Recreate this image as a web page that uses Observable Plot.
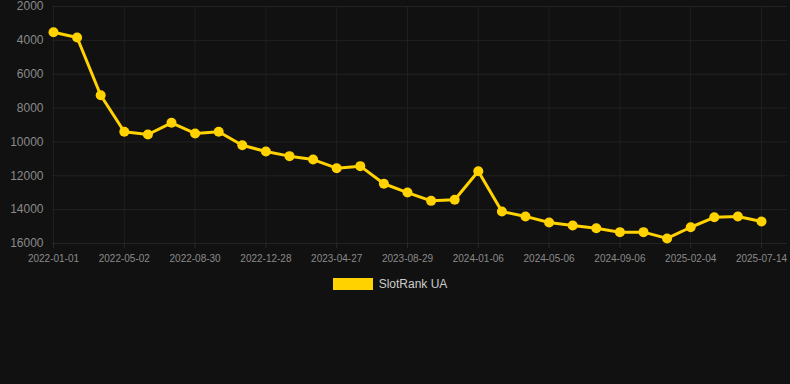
<!DOCTYPE html>
<html>
<head>
<meta charset="utf-8">
<script src="https://cdn.jsdelivr.net/npm/d3@7"></script>
<script src="https://cdn.jsdelivr.net/npm/@observablehq/plot@0.6"></script>
<style>
  html, body { margin: 0; padding: 0; background: #111111; width: 790px; height: 384px; overflow: hidden; }
  body { font-family: "Liberation Sans", Arial, Helvetica, sans-serif; }
  #legend { display: flex; justify-content: center; align-items: center; margin-top: 5px; padding-right: 10px; color: #cccccc; font-size: 12px; }
  #legend .sw { width: 40px; height: 12px; background: #FFD200; margin-right: 6px; }
</style>
</head>
<body>
<div id="chart"></div>
<div id="legend"><div class="sw"></div><span>SlotRank UA</span></div>
<script>
const dates = [
  "2022-01-01","2022-02-10","2022-03-22","2022-05-02","2022-06-11","2022-07-21",
  "2022-08-30","2022-10-09","2022-11-18","2022-12-28","2023-02-06","2023-03-18",
  "2023-04-27","2023-06-07","2023-07-18","2023-08-29","2023-10-12","2023-11-24",
  "2024-01-06","2024-02-15","2024-03-27","2024-05-06","2024-06-16","2024-07-27",
  "2024-09-06","2024-10-26","2024-12-15","2025-02-04","2025-03-29","2025-05-21",
  "2025-07-14"
];
const ranks = [
  3520, 3830, 7240, 9400, 9560, 8870,
  9500, 9400, 10200, 10565, 10840, 11040,
  11550, 11430, 12470, 12990, 13480, 13420,
  11730, 14110, 14400, 14760, 14940, 15100,
  15330, 15330, 15700, 15040, 14450, 14400,
  14700
];
const yTicks = [2000, 4000, 6000, 8000, 10000, 12000, 14000, 16000];
const xTicks = dates.filter((d, i) => i % 3 === 0);
const seriesName = "SlotRank UA";
const color = "#FFD200";

const data = dates.map((d, i) => ({date: d, rank: ranks[i], series: seriesName}));

const chart = Plot.plot({
  width: 790,
  height: 272,
  marginLeft: 52,
  marginRight: 3,
  marginTop: 6,
  marginBottom: 29,
  style: {background: "transparent", fontFamily: "Liberation Sans, Arial, sans-serif"},
  x: {type: "point", domain: dates, range: [53, 761], padding: 0, round: false, label: null},
  y: {domain: [2000, 16000], reverse: true, label: null},
  marks: [
    Plot.gridX(xTicks, {stroke: "#1f1f1f", strokeOpacity: 1}),
    Plot.gridY(yTicks, {stroke: "#222222", strokeOpacity: 1}),
    Plot.axisX({ticks: xTicks, tickSize: 5, tickPadding: 6, stroke: "#2a2a2a", fill: "#8a8a8a", fontSize: 10, label: null}),
    Plot.axisY({ticks: yTicks, tickSize: 0, tickPadding: 9, fill: "#8a8a8a", fontSize: 12, tickFormat: d => String(d), label: null}),
    Plot.line(data, {x: "date", y: "rank", stroke: color, strokeWidth: 3}),
    Plot.dot(data, {x: "date", y: "rank", fill: color, r: 5})
  ]
});
document.getElementById("chart").appendChild(chart);
</script>
</body>
</html>
